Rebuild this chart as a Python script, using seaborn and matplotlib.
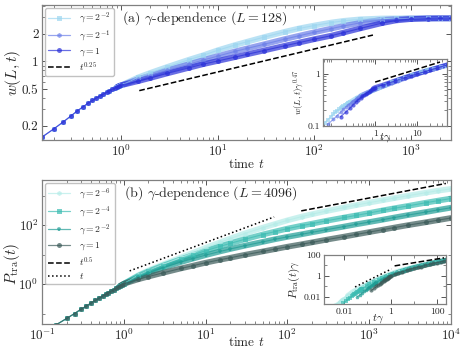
import numpy as np
import pandas as pd
import seaborn as sns
import matplotlib.pyplot as plt
from matplotlib.lines import Line2D
from matplotlib.ticker import FixedLocator, FixedFormatter, NullFormatter, LogLocator

# ---- panel (a): interface width w(L,t), L = 128 ----
t_early = [0.15, 0.20, 0.25, 0.30, 0.35, 0.40, 0.45, 0.50, 0.55,
           0.60, 0.65, 0.70, 0.75, 0.80, 0.85, 0.90, 0.95, 1.00]
w_early = [0.150, 0.185, 0.220, 0.255, 0.290, 0.320, 0.350, 0.375, 0.400,
           0.420, 0.440, 0.460, 0.480, 0.495, 0.510, 0.525, 0.540, 0.550]
t_a = [1.5, 2, 3, 5, 7, 10, 15, 20, 30, 50, 70, 100, 150, 200, 300, 500,
       700, 1000, 1500, 2000, 2600]
w_g2m2 = [0.67, 0.75, 0.87, 1.04, 1.16, 1.32, 1.50, 1.63, 1.83, 2.10, 2.28,
          2.45, 2.64, 2.75, 2.86, 2.92, 2.93, 2.93, 2.93, 2.93, 2.93]
w_g2m1 = [0.64, 0.70, 0.80, 0.93, 1.03, 1.14, 1.28, 1.38, 1.53, 1.75, 1.90,
          2.07, 2.27, 2.42, 2.62, 2.82, 2.88, 2.92, 2.93, 2.93, 2.93]
w_g1 = [0.61, 0.66, 0.74, 0.85, 0.93, 1.01, 1.11, 1.19, 1.31, 1.48, 1.60,
        1.74, 1.90, 2.05, 2.28, 2.60, 2.78, 2.88, 2.92, 2.93, 2.93]
gamma_a = [0.25, 0.5, 1.0]
labels_a = [r'$\gamma=2^{-2}$', r'$\gamma=2^{-1}$', r'$\gamma=1$']
colors_a = ['#9dd6f0', '#6a7ee8', '#2a30d8']
markers_a = ['s', 'h', 'o']
guide_a_t = [1.53, 405]          # t^0.25 guide
guide_a_w = [0.48, 1.93]
guide_ai_x = [1.0, 35]           # inset guide
guide_ai_y = [0.70, 1.70]

# ---- panel (b): P_tra(t), L = 4096 ----
P_early = [0.042, 0.068, 0.10, 0.14, 0.18, 0.23, 0.28, 0.33, 0.39,
           0.45, 0.51, 0.57, 0.64, 0.71, 0.78, 0.86, 0.94, 1.02]
t_b = [1.5, 2, 3, 5, 7, 10, 15, 20, 30, 50, 70, 100, 150, 200, 300, 500,
       700, 1000, 1500, 2000, 3000, 5000, 7000, 10000]
P_g2m6 = [2.0, 2.9, 4.6, 8.0, 11.5, 17, 26, 35, 52, 82, 108, 145, 195, 235,
          300, 400, 480, 580, 710, 820, 1000, 1270, 1480, 1700]
P_g2m4 = [1.9, 2.7, 4.2, 7.0, 9.6, 13.5, 19, 24, 33, 48, 60, 76, 96, 112,
          140, 182, 215, 258, 320, 370, 450, 580, 680, 800]
P_g2m2 = [1.7, 2.4, 3.6, 5.6, 7.3, 9.6, 12.8, 15.5, 20, 27, 33, 40, 49, 57,
          70, 90, 107, 127, 155, 180, 220, 280, 330, 390]
P_g1 = [1.45, 1.8, 2.4, 3.4, 4.2, 5.3, 6.7, 7.8, 9.8, 12.8, 15.3, 18.5, 22.5,
        26, 32, 41, 48.5, 58, 71, 82, 100, 126, 148, 175]
gamma_b = [2.0**-6, 2.0**-4, 2.0**-2, 1.0]
labels_b = [r'$\gamma=2^{-6}$', r'$\gamma=2^{-4}$', r'$\gamma=2^{-2}$', r'$\gamma=1$']
colors_b = ['#b4ece8', '#3cbcb2', '#1e9c94', '#3a5a58']
markers_b = ['h', 's', 'p', 'o']
guide_b_dash_t = [148, 8700]     # t^0.5
guide_b_dash_P = [305, 2600]
guide_b_dot_t = [1.18, 69]       # t
guide_b_dot_P = [2.8, 190]
guide_bi_dash_x = [1.5, 200]
guide_bi_dash_y = [9, 52]
guide_bi_dot_x = [0.03, 1.1]
guide_bi_dot_y = [0.09, 4.6]


def build(t_late, early, series, gammas, labels, yexp):
    rows = []
    for vals, g, lab in zip(series, gammas, labels):
        for t, v in zip(t_early + t_late, early + vals):
            rows.append({'t': t, 'v': v, 'curve': lab,
                         'x_s': t * g, 'y_s': v * g ** yexp})
    return pd.DataFrame(rows)


def draw(ax, df, x, y, labels, colors, markers, ms):
    pal = dict(zip(labels, colors))
    mk = dict(zip(labels, markers))
    band = df[df['t'] >= 0.9]
    sns.lineplot(data=band, x=x, y=y, hue='curve', hue_order=labels, palette=pal,
                 estimator=None, sort=False, linewidth=ms * 1.15, alpha=0.7,
                 legend=False, ax=ax, solid_capstyle='round')
    sns.lineplot(data=df, x=x, y=y, hue='curve', hue_order=labels, palette=pal,
                 style='curve', style_order=labels, markers=mk, dashes=False,
                 estimator=None, sort=False, linewidth=0.8, markersize=ms,
                 markeredgewidth=0, alpha=0.7, legend=False, ax=ax)


def style_ax(ax, fs):
    ax.set_xscale('log')
    ax.set_yscale('log')
    ax.tick_params(which='both', direction='in', top=True, right=True,
                   color='#555555', labelsize=fs, pad=2.5)
    ax.tick_params(which='major', length=3.5, width=0.7)
    ax.tick_params(which='minor', length=2, width=0.5)
    for s in ax.spines.values():
        s.set_color('#808080')
        s.set_linewidth(0.9)


sns.set_style('ticks')
plt.rcParams['font.family'] = ['cmr10', 'DejaVu Serif']
plt.rcParams['mathtext.fontset'] = 'cm'
plt.rcParams['axes.unicode_minus'] = False
plt.rcParams['axes.formatter.use_mathtext'] = True

df_a = build(t_a, w_early, [w_g2m2, w_g2m1, w_g1], gamma_a, labels_a, 0.47)
df_b = build(t_b, P_early, [P_g2m6, P_g2m4, P_g2m2, P_g1], gamma_b, labels_b, 1.0)

fig = plt.figure(figsize=(4.63, 3.53), dpi=100)
ax1 = fig.add_axes([0.0907, 0.603, 0.883, 0.383])
ax2 = fig.add_axes([0.0907, 0.082, 0.883, 0.408])
ins1 = fig.add_axes([0.698, 0.643, 0.268, 0.190])
ins2 = fig.add_axes([0.700, 0.139, 0.2635, 0.139])

# ---- top main ----
draw(ax1, df_a, 't', 'v', labels_a, colors_a, markers_a, 3.6)
ax1.plot(guide_a_t, guide_a_w, 'k--', lw=1.1)
style_ax(ax1, 9.5)
ax1.set_xlim(0.15, 2600)
ax1.set_ylim(0.139, 4.1)
ax1.xaxis.set_major_locator(FixedLocator([1, 10, 100, 1000]))
ax1.xaxis.set_major_formatter(FixedFormatter([r'$10^{0}$', r'$10^{1}$', r'$10^{2}$', r'$10^{3}$']))
ax1.xaxis.set_minor_locator(LogLocator(base=10, subs=np.arange(2, 10), numticks=20))
ax1.xaxis.set_minor_formatter(NullFormatter())
ax1.yaxis.set_major_locator(FixedLocator([0.2, 0.5, 1, 2]))
ax1.yaxis.set_major_formatter(FixedFormatter(['0.2', '0.5', '1', '2']))
ax1.yaxis.set_minor_locator(LogLocator(base=10, subs=np.arange(1, 10), numticks=20))
ax1.yaxis.set_minor_formatter(NullFormatter())
ax1.set_xlabel(r'time $t$', fontsize=9.5)
ax1.xaxis.set_label_coords(0.5, -0.13)
ax1.set_ylabel(r'$w(L,t)$', fontsize=11)
ax1.yaxis.set_label_coords(-0.047, 0.5)
ax1.text(0.195, 0.9, r'(a) $\gamma$-dependence ($L=128$)', transform=ax1.transAxes,
         fontsize=10, va='center')
h_a = [Line2D([], [], color=c, marker=m, markersize=3.6, lw=0.9, alpha=0.7, markeredgewidth=0)
       for c, m in zip(colors_a, markers_a)]
h_a.append(Line2D([], [], color='k', ls='--', lw=1.1))
ax1.legend(h_a, labels_a + [r'$t^{0.25}$'], loc='upper left', fontsize=7,
           handlelength=2.2, handletextpad=1.0, labelspacing=0.22, borderpad=0.35,
           borderaxespad=0.3, edgecolor='#bbbbbb', framealpha=0.9)

# ---- top inset ----
draw(ins1, df_a, 'x_s', 'y_s', labels_a, colors_a, markers_a, 3.0)
ins1.plot(guide_ai_x, guide_ai_y, 'k--', lw=1.1)
style_ax(ins1, 7)
ins1.set_xlim(0.058, 52)
ins1.set_ylim(0.1, 1.95)
ins1.xaxis.set_major_locator(FixedLocator([1, 10]))
ins1.xaxis.set_major_formatter(FixedFormatter(['1', '10']))
ins1.xaxis.set_minor_locator(LogLocator(base=10, subs=np.arange(2, 10), numticks=20))
ins1.xaxis.set_minor_formatter(NullFormatter())
ins1.yaxis.set_major_locator(FixedLocator([0.1, 1]))
ins1.yaxis.set_major_formatter(FixedFormatter(['0.1', '1']))
ins1.yaxis.set_minor_locator(LogLocator(base=10, subs=np.arange(2, 10), numticks=20))
ins1.yaxis.set_minor_formatter(NullFormatter())
ins1.set_xlabel(r'$t\gamma$', fontsize=8)
ins1.xaxis.set_label_coords(0.5, -0.08)
ins1.set_ylabel(r'$w(L,t)\gamma^{0.47}$', fontsize=6.5, labelpad=1)

# ---- bottom main ----
draw(ax2, df_b, 't', 'v', labels_b, colors_b, markers_b, 3.6)
ax2.plot(guide_b_dash_t, guide_b_dash_P, 'k--', lw=1.1)
ax2.plot(guide_b_dot_t, guide_b_dot_P, 'k:', lw=1.1)
style_ax(ax2, 9.5)
ax2.set_xlim(0.1, 1e4)
ax2.set_ylim(0.044, 3400)
ax2.xaxis.set_major_locator(FixedLocator([0.1, 1, 10, 100, 1000, 10000]))
ax2.xaxis.set_major_formatter(FixedFormatter([r'$10^{-1}$', r'$10^{0}$', r'$10^{1}$',
                                              r'$10^{2}$', r'$10^{3}$', r'$10^{4}$']))
ax2.xaxis.set_minor_locator(LogLocator(base=10, subs=np.arange(2, 10), numticks=20))
ax2.xaxis.set_minor_formatter(NullFormatter())
ax2.yaxis.set_major_locator(FixedLocator([1, 100]))
ax2.yaxis.set_major_formatter(FixedFormatter([r'$10^{0}$', r'$10^{2}$']))
ax2.yaxis.set_minor_locator(FixedLocator([0.1, 10, 1000]))
ax2.yaxis.set_minor_formatter(NullFormatter())
ax2.set_xlabel(r'time $t$', fontsize=9.5)
ax2.xaxis.set_label_coords(0.5, -0.085)
ax2.set_ylabel(r'$P_{\rm tra}(t)$', fontsize=11)
ax2.yaxis.set_label_coords(-0.05, 0.42)
ax2.text(0.2, 0.91, r'(b) $\gamma$-dependence ($L=4096$)', transform=ax2.transAxes,
         fontsize=10, va='center')
h_b = [Line2D([], [], color=c, marker=m, markersize=3.6, lw=0.9, alpha=0.7, markeredgewidth=0)
       for c, m in zip(colors_b, markers_b)]
h_b.append(Line2D([], [], color='k', ls='--', lw=1.1))
h_b.append(Line2D([], [], color='k', ls=':', lw=1.1))
ax2.legend(h_b, labels_b + [r'$t^{0.5}$', r'$t$'], loc='upper left', fontsize=7,
           handlelength=2.2, handletextpad=1.0, labelspacing=0.3, borderpad=0.35,
           borderaxespad=0.3, edgecolor='#bbbbbb', framealpha=0.9)

# ---- bottom inset ----
draw(ins2, df_b, 'x_s', 'y_s', labels_b, colors_b, markers_b, 3.0)
ins2.plot(guide_bi_dash_x, guide_bi_dash_y, 'k--', lw=1.1)
ins2.plot(guide_bi_dot_x, guide_bi_dot_y, 'k:', lw=1.1)
style_ax(ins2, 7)
ins2.set_xlim(0.0014, 245)
ins2.set_ylim(0.0022, 100)
ins2.xaxis.set_major_locator(FixedLocator([0.01, 1, 100]))
ins2.xaxis.set_major_formatter(FixedFormatter(['0.01', '1', '100']))
ins2.xaxis.set_minor_locator(FixedLocator([0.001, 0.1, 10]))
ins2.xaxis.set_minor_formatter(NullFormatter())
ins2.yaxis.set_major_locator(FixedLocator([0.01, 1, 100]))
ins2.yaxis.set_major_formatter(FixedFormatter(['0.01', '1', '100']))
ins2.yaxis.set_minor_locator(FixedLocator([0.1, 10]))
ins2.yaxis.set_minor_formatter(NullFormatter())
ins2.set_xlabel(r'$t\gamma$', fontsize=8)
ins2.xaxis.set_label_coords(0.44, -0.17)
ins2.set_ylabel(r'$P_{\rm tra}(t)\gamma$', fontsize=8, labelpad=1)

fig.savefig('out.png', dpi=100)
